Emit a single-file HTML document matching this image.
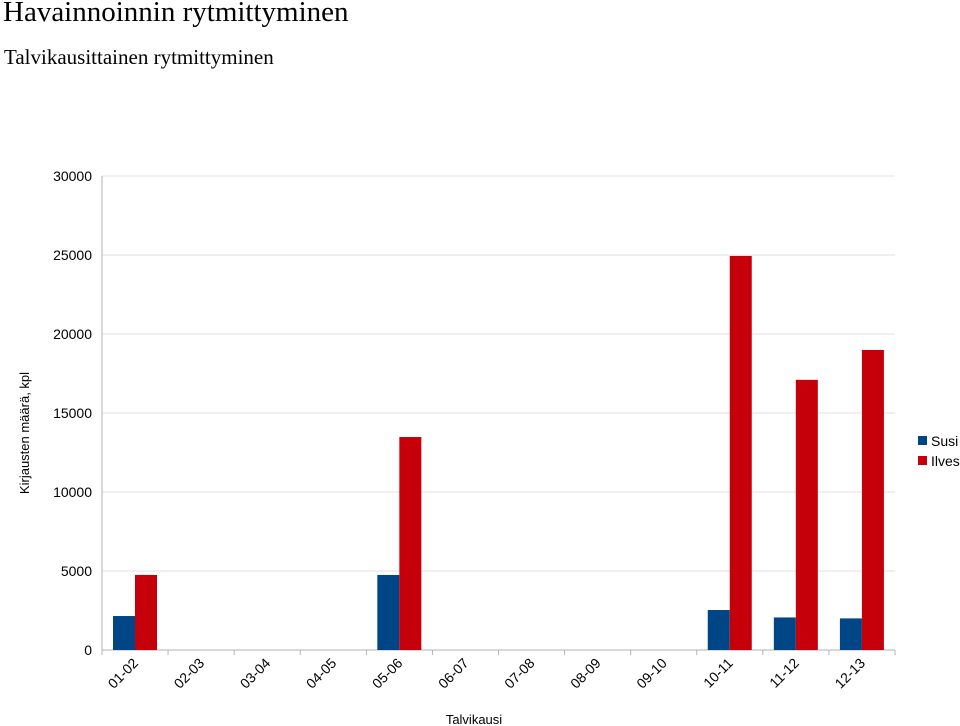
<!DOCTYPE html>
<html><head><meta charset="utf-8"><style>
body{margin:0;background:#fff;width:960px;height:726px;overflow:hidden;font-family:"Liberation Sans",sans-serif}
.t1{position:absolute;left:3px;top:-4px;font-family:"Liberation Serif",serif;font-size:29px;color:#000}
.t2{position:absolute;left:4px;top:45px;font-family:"Liberation Serif",serif;font-size:21px;color:#000}
</style></head><body>
<div class="t1">Havainnoinnin rytmittyminen</div>
<div class="t2">Talvikausittainen rytmittyminen</div>
<svg id="chart" width="960" height="726" style="position:absolute;left:0;top:0"></svg>
<script>
const categories=["01-02","02-03","03-04","04-05","05-06","06-07","07-08","08-09","09-10","10-11","11-12","12-13"];
const susi=[2150,0,0,0,4750,0,0,0,0,2530,2060,2000];
const ilves=[4750,0,0,0,13480,0,0,0,0,24940,17100,18990];
const yTicks=[0,5000,10000,15000,20000,25000,30000];
const svg=document.getElementById('chart');
const NS='http://www.w3.org/2000/svg';
const X0=102,X1=895,Y0=650,Y1=176,YMAX=30000;
const cw=(X1-X0)/categories.length;
const y=v=>Y0-(v/YMAX)*(Y0-Y1);
const x=i=>X0+i*cw;
function mk(t,a,p){const e=document.createElementNS(NS,t);for(const k in a)e.setAttribute(k,a[k]);(p||svg).appendChild(e);return e;}
yTicks.forEach(v=>{
  const g=mk('line',{x1:X0,x2:X1,y1:y(v),y2:y(v),stroke:v===0?'#b3b3b3':'#e0e0e0','stroke-width':1});
  
  
  const t=mk('text',{x:92,y:y(v)+5,'text-anchor':'end','font-size':14,fill:'#000'});
  t.textContent=v;
  
  
});
const ax=mk('line',{x1:X0,x2:X0,y1:Y1,y2:Y0+5,stroke:'#b3b3b3'});


for(let i=0;i<=categories.length;i++){
  const tk=mk('line',{x1:x(i),x2:x(i),y1:Y0,y2:Y0+5,stroke:'#b3b3b3'});
  
  
}
const bw=22,off=11;
categories.forEach((c,i)=>{
  if(susi[i]>0){const r=mk('rect',{x:x(i)+off,y:y(susi[i]),width:bw,height:Y0-y(susi[i]),fill:'#004586'});
  
  }
  if(ilves[i]>0){const r=mk('rect',{x:x(i)+off+bw,y:y(ilves[i]),width:bw,height:Y0-y(ilves[i]),fill:'#c5000b'});
  
  }
  const cx=x(i)+cw/2+4,cy=Y0+14;
  const t=mk('text',{x:cx,y:cy,'text-anchor':'end','font-size':14,fill:'#000',transform:`rotate(-45 ${cx} ${cy})`});
  t.textContent=c;
  
  
});
const xt=mk('text',{x:474,y:724,'text-anchor':'middle','font-size':13});
xt.textContent='Talvikausi';


const yt=mk('text',{x:0,y:0,'text-anchor':'middle','font-size':13,transform:'translate(29,433) rotate(-90)'});
yt.textContent='Kirjausten määrä, kpl';


[['Susi','#004586',442],['Ilves','#c5000b',462]].forEach(([n,col,yy])=>{
  const g=mk('g',{});
  
  
  mk('rect',{x:918,y:yy-6,width:9,height:9,fill:col},g);
  const t=mk('text',{x:931,y:yy+4,'font-size':14},g);t.textContent=n;
});
</script>
</body></html>
